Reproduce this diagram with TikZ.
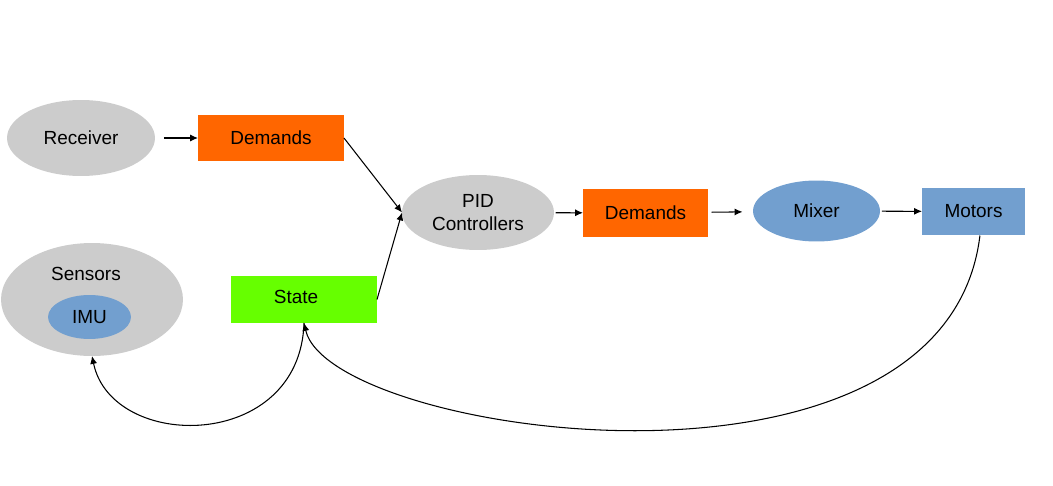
\documentclass[tikz,border=0pt]{standalone}
\usepackage{fontspec}
\setmainfont{Liberation Sans}
\usepackage{tikz}
\usetikzlibrary{shapes,arrows.meta}
\definecolor{boxgrey}{HTML}{CCCCCC}
\definecolor{boxorange}{HTML}{FF6600}
\definecolor{boxgreen}{HTML}{66FF00}
\definecolor{boxblue}{HTML}{729FCF}

\begin{document}
\begin{tikzpicture}[x=0.02cm,y=-0.02cm,>={Latex[length=4.5pt,width=4pt]},
    every node/.style={font=\fontsize{10.8}{13}\selectfont,inner sep=0pt,outer sep=0pt},
    greyell/.style={ellipse,fill=boxgrey},
    blueell/.style={ellipse,fill=boxblue},
    box/.style={rectangle,fill=#1},
    link/.style={->,line width=0.6pt}]
    \useasboundingbox (0,0) rectangle (1053,486);
    % top row
    \node[greyell,minimum width=2.96cm,minimum height=1.52cm] (receiver) at (81,138) {Receiver};
    \node[box=boxorange,minimum width=2.92cm,minimum height=0.94cm] (demin) at (271,138) {Demands};
    \node[greyell,minimum width=3.04cm,minimum height=1.5cm,align=center] (pid) at (478,212.5) {PID\\Controllers};
    \node[box=boxorange,minimum width=2.5cm,minimum height=0.96cm] (demout) at (645.5,213) {Demands};
    \node[blueell,minimum width=2.54cm,minimum height=1.22cm] (mixer) at (816.5,211) {Mixer};
    \node[box=boxblue,minimum width=2.06cm,minimum height=0.96cm] (motors) at (973.5,211.5) {Motors};
    % sensors and state
    \node[greyell,minimum width=3.64cm,minimum height=2.26cm] (sensors) at (92,299.5) {};
    \node (sensorslbl) at (86,274) {Sensors};
    \node[blueell,minimum width=1.66cm,minimum height=0.88cm] (imu) at (89.5,317) {IMU};
    \node[box=boxgreen,minimum width=2.92cm,minimum height=0.94cm] (state) at (304,299.5) {};
    \node (statelbl) at (296,297) {State};
    % links
    \draw[link,shorten <=5pt] (receiver) -- (demin);
    \draw[link] (demin.east) -- (pid.west);
    \draw[link] (state.east) -- (pid.west);
    \draw[link,shorten <=1pt] (pid) -- (demout);
    \draw[link,shorten <=2pt,shorten >=6pt] (demout) -- (mixer);
    \draw[link,shorten <=1pt] (mixer) -- (motors);
    \draw[link] (motors.-75) .. controls (945,524) and (330,436) .. (state.south);
    \draw[link] (state.south) .. controls (300,452) and (112,452) .. (sensors.south);
\end{tikzpicture}
\end{document}
